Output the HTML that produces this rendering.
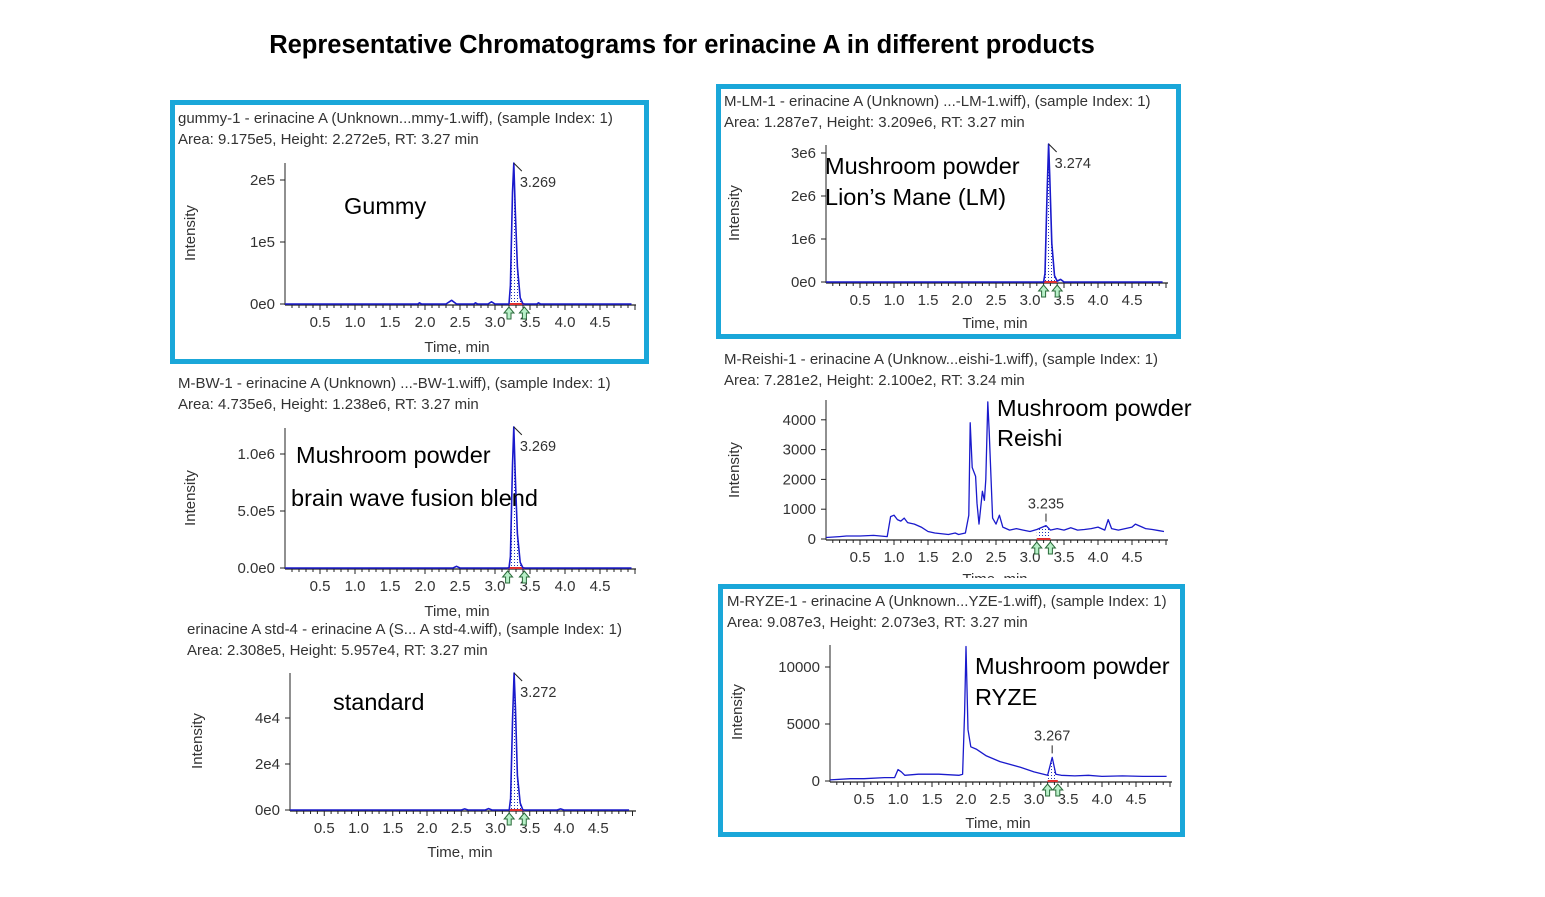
<!DOCTYPE html>
<html><head><meta charset="utf-8">
<style>
body{margin:0;background:#fff;}
svg{display:block;font-family:"Liberation Sans",sans-serif;}
</style></head>
<body>
<svg id="c" width="1545" height="897" viewBox="0 0 1545 897" xmlns="http://www.w3.org/2000/svg">
<defs>
<pattern id="dots" width="3" height="3" patternUnits="userSpaceOnUse"><rect x="1" y="1" width="1" height="1" fill="#2233bb"/></pattern>
</defs>
<text x="682" y="53" text-anchor="middle" font-size="25.5" font-weight="bold" fill="#000">Representative Chromatograms for erinacine A in different products</text>
<g id="panels"></g>
<rect x="172.5" y="102.5" width="474" height="259" fill="none" stroke="#1aa7d9" stroke-width="5"/>
<rect x="718.5" y="86.5" width="460" height="250" fill="none" stroke="#1aa7d9" stroke-width="5"/>
<rect x="720.5" y="586.5" width="462" height="248" fill="none" stroke="#1aa7d9" stroke-width="5"/>
</svg>
<script>
// ---- data arrays ----
const gummyTimes=[0,1.9,1.92,1.95,2.3,2.38,2.45,2.7,2.72,2.75,2.9,2.95,3.0,3.2,3.22,3.25,3.269,3.29,3.32,3.36,3.4,3.6,3.62,3.65,4.95];
const gummyVals=[0,0,2000,0,0,6000,0,0,2000,0,0,3500,0,0,30000,180000,227200,150000,60000,10000,0,0,2000,0,0];
const bwTimes=[0,2.4,2.45,2.5,3.2,3.22,3.25,3.269,3.29,3.32,3.36,3.4,4.95];
const bwVals=[0,0,15000,0,0,100000,900000,1238000,800000,300000,50000,0,0];
const stdTimes=[0,2.5,2.55,2.6,2.85,2.9,2.95,3.2,3.22,3.25,3.272,3.29,3.32,3.36,3.4,3.9,3.95,4.0,4.95];
const stdVals=[0,0,500,0,0,600,0,0,5000,40000,59570,45000,15000,3000,0,0,500,0,0];
const lmTimes=[0,3.2,3.22,3.25,3.274,3.29,3.32,3.36,3.4,3.45,3.5,4.95];
const lmVals=[0,0,200000,2000000,3209000,2500000,900000,150000,20000,60000,0,0];
const reishiTimes=[0,0.2,0.3,0.5,0.7,0.9,0.95,1.0,1.05,1.1,1.15,1.2,1.3,1.4,1.5,1.6,1.8,1.9,1.95,2.05,2.1,2.12,2.15,2.2,2.22,2.25,2.3,2.33,2.35,2.38,2.4,2.45,2.5,2.55,2.6,2.7,2.8,2.9,3.0,3.1,3.235,3.3,3.4,3.5,3.6,3.7,3.8,3.9,4.0,4.1,4.15,4.2,4.3,4.4,4.5,4.55,4.6,4.7,4.8,4.9,4.97];
const reishiVals=[50,80,100,100,120,80,750,800,650,600,700,550,500,400,250,200,150,200,150,200,800,3900,2400,2100,1200,500,1600,1300,2000,4600,3600,700,500,800,400,300,350,300,250,320,450,300,350,300,380,300,320,350,400,300,650,350,300,350,400,500,450,350,320,280,250];
const ryzeTimes=[0,0.3,0.5,0.8,0.95,1.0,1.05,1.1,1.3,1.6,1.9,1.95,1.98,2.0,2.03,2.07,2.15,2.3,2.5,2.8,3.0,3.2,3.267,3.32,3.4,3.6,3.8,4.0,4.3,4.6,4.95];
const ryzeVals=[100,200,200,300,300,1000,800,500,600,600,500,600,6000,11800,4500,3000,2800,2200,1700,1200,800,500,2073,600,500,450,500,400,450,400,400];
const xTickVals=[0.5,1.0,1.5,2.0,2.5,3.0,3.5,4.0,4.5];
const gummyYTicks=[0,100000,200000], gummyYLabels=["0e0","1e5","2e5"];
const bwYTicks=[0,500000,1000000], bwYLabels=["0.0e0","5.0e5","1.0e6"];
const stdYTicks=[0,20000,40000], stdYLabels=["0e0","2e4","4e4"];
const lmYTicks=[0,1000000,2000000,3000000], lmYLabels=["0e0","1e6","2e6","3e6"];
const reishiYTicks=[0,1000,2000,3000,4000], reishiYLabels=["0","1000","2000","3000","4000"];
const ryzeYTicks=[0,5000,10000], ryzeYLabels=["0","5000","10000"];

const NS="http://www.w3.org/2000/svg";
const root=document.getElementById('panels');
function mk(tag,attrs,parent){const e=document.createElementNS(NS,tag);for(const k in attrs)e.setAttribute(k,attrs[k]);(parent||root).appendChild(e);return e;}
function txt(x,y,s,size,anchor,parent,fill){const t=mk('text',{x:x,y:y,'font-size':size,'text-anchor':anchor||'start',fill:fill||'#333'},parent);t.textContent=s;return t;}

function panel(c,times,vals,yTicks,yLabels){
  const g=mk('g',{});
  
  
  const X=t=>c.x0+t*c.pxMin;
  const Y=v=>c.base-v*c.pxUnit;
  const h1=txt(c.hx,c.hy,c.h1,15,'start',g,'#333');
  
  
  const h2=txt(c.hx,c.hy+21,c.h2,15,'start',g,'#333');
  
  
  mk('line',{x1:c.x0,y1:c.top,x2:c.x0,y2:c.base+1,stroke:'#222','stroke-width':1},g);
  mk('line',{x1:c.x0,y1:c.base+1,x2:c.xEnd,y2:c.base+1,stroke:'#222','stroke-width':1.3},g);
  for(let t=0.1;X(t)<c.xEnd;t+=0.1){mk('line',{x1:X(t),y1:c.base+1,x2:X(t),y2:c.base+(Math.abs(t*2-Math.round(t*2))<0.01?6:4),stroke:'#222'},g);}
  xTickVals.forEach(t=>{const l=txt(X(t),c.base+23,t.toFixed(1),15,'middle',g);
    
    });
  yTicks.forEach((v,i)=>{mk('line',{x1:c.x0-5,y1:Y(v),x2:c.x0,y2:Y(v),stroke:'#222'},g);
    const l=txt(c.x0-10,Y(v)+5,yLabels[i],15,'end',g);
    
    });
  const xl=txt(c.xlx,c.xly,'Time, min',15,'middle',g);
  
  
  const yl=txt(0,0,'Intensity',15,'middle',g);
  yl.setAttribute('transform','translate('+c.ylx+','+c.yly+') rotate(-90)');
  
  
  let fp='';times.forEach((t,i)=>{if(t>=c.ps&&t<=c.pe)fp+=(fp?'L':'M')+X(t)+','+Y(vals[i]);});
  fp+='L'+X(c.pe)+','+c.base+'L'+X(c.ps)+','+c.base+'Z';
  const fill=mk('path',{d:fp,fill:'url(#dots)',stroke:'none'},g);
  
  
  mk('line',{x1:X(c.ps),y1:c.base,x2:X(c.pe),y2:c.base,stroke:'#e03030','stroke-width':2},g);
  const d=times.map((t,i)=>(i?'L':'M')+X(t).toFixed(1)+','+Y(vals[i]).toFixed(1)).join('');
  const tr=mk('path',{d:d,fill:'none',stroke:'#1a1acc','stroke-width':c.sw||1.6,'stroke-linejoin':'round'},g);
  
  
  let best=-1,pi=0;times.forEach((t,i)=>{if(t>=c.ps&&t<=c.pe&&vals[i]>best){best=vals[i];pi=i;}});
  const px=X(times[pi]),py=Y(vals[pi]);
  let pl;
  if(c.above){
    mk('line',{x1:px,y1:py-4,x2:px,y2:py-12,stroke:'#222'},g);
    pl=txt(px,py-17,c.peakLabel,14.5,'middle',g);
  } else {
    mk('line',{x1:px,y1:py,x2:px+8,y2:py+8,stroke:'#222'},g);
    pl=txt(px+6,py+24,c.peakLabel,14.5,'start',g);
  }
  
  
  [c.ps,c.pe].forEach(t=>{const ax=X(t),ay=c.base+3;
    const a=mk('path',{d:`M${ax},${ay} l-5,6 h3 v6 h4 v-6 h3 z`,fill:'#b8f0c8',stroke:'#2a6a3a','stroke-width':1},g);
    
    });
  c.ann.forEach((s,i)=>{const a=txt(i&&c.ax2?c.ax2:c.ax,c.ay+i*c.ad,s,23.5,'start',g,'#000');
    
    });
}

panel({name:'gummy',hx:178,hy:123,h1:'gummy-1 - erinacine A (Unknown...mmy-1.wiff), (sample Index: 1)',h2:'Area: 9.175e5, Height: 2.272e5, RT: 3.27 min',
  x0:285,base:304,pxMin:70,pxUnit:62/100000,top:163,xEnd:636,xlx:457,xly:352,ylx:195,yly:233,ps:3.2,pe:3.42,peakLabel:'3.269',
  ann:['Gummy'],ax:344,ay:214,ad:31},gummyTimes,gummyVals,gummyYTicks,gummyYLabels);
panel({name:'brain-wave',hx:178,hy:388,h1:'M-BW-1 - erinacine A (Unknown) ...-BW-1.wiff), (sample Index: 1)',h2:'Area: 4.735e6, Height: 1.238e6, RT: 3.27 min',
  x0:285,base:568,pxMin:70,pxUnit:114/1000000,top:428,xEnd:636,xlx:457,xly:616,ylx:195,yly:498,ps:3.18,pe:3.42,peakLabel:'3.269',
  ann:['Mushroom powder','brain wave fusion blend'],ax:296,ax2:291,ay:463,ad:43},bwTimes,bwVals,bwYTicks,bwYLabels);
panel({name:'standard',hx:187,hy:634,h1:'erinacine A std-4 - erinacine A (S... A std-4.wiff), (sample Index: 1)',h2:'Area: 2.308e5, Height: 5.957e4, RT: 3.27 min',
  x0:290,base:810,pxMin:68.5,pxUnit:46/20000,top:673,xEnd:636,xlx:460,xly:857,ylx:202,yly:741,ps:3.2,pe:3.42,peakLabel:'3.272',
  ann:['standard'],ax:333,ay:710,ad:31},stdTimes,stdVals,stdYTicks,stdYLabels);
panel({name:'lions-mane',hx:724,hy:106,h1:'M-LM-1 - erinacine A (Unknown) ...-LM-1.wiff), (sample Index: 1)',h2:'Area: 1.287e7, Height: 3.209e6, RT: 3.27 min',
  x0:826,base:282,pxMin:68,pxUnit:43/1000000,top:145,xEnd:1168,xlx:995,xly:328,ylx:739,yly:213,ps:3.2,pe:3.4,peakLabel:'3.274',
  ann:['Mushroom powder','Lion\u2019s Mane (LM)'],ax:825,ay:174,ad:31},lmTimes,lmVals,lmYTicks,lmYLabels);
panel({name:'reishi',hx:724,hy:364,h1:'M-Reishi-1 - erinacine A (Unknow...eishi-1.wiff), (sample Index: 1)',h2:'Area: 7.281e2, Height: 2.100e2, RT: 3.24 min',
  x0:826,base:539,pxMin:68,pxUnit:29.8/1000,top:400,xEnd:1168,xlx:995,xly:584,ylx:739,yly:470,ps:3.1,pe:3.3,peakLabel:'3.235',sw:1.3,above:true,
  ann:['Mushroom powder','Reishi'],ax:997,ay:416,ad:30},reishiTimes,reishiVals,reishiYTicks,reishiYLabels);
panel({name:'ryze',hx:727,hy:606,h1:'M-RYZE-1 - erinacine A (Unknown...YZE-1.wiff), (sample Index: 1)',h2:'Area: 9.087e3, Height: 2.073e3, RT: 3.27 min',
  x0:830,base:781,pxMin:68,pxUnit:11.4/1000,top:645,xEnd:1172,xlx:998,xly:828,ylx:742,yly:712,ps:3.2,pe:3.35,peakLabel:'3.267',sw:1.3,above:true,
  ann:['Mushroom powder','RYZE'],ax:975,ay:674,ad:31},ryzeTimes,ryzeVals,ryzeYTicks,ryzeYLabels);
const cover=mk('rect',{x:900,y:578,width:200,height:6,fill:'#fff'});


</script>
</body></html>
